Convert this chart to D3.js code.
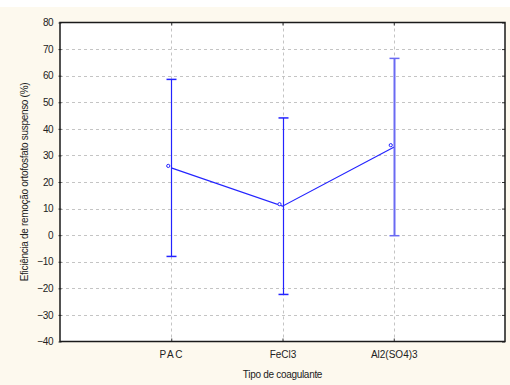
<!DOCTYPE html>
<html>
<head>
<meta charset="utf-8">
<script src="https://cdn.jsdelivr.net/npm/d3@7"></script>
<style>
	body { margin: 0; background: #fff; }
	text { font-family: "Liberation Sans", Arial, sans-serif; fill: #222; }
</style>
</head>
<body>
<script>
// chart data
var categories = ['PAC', 'FeCl3', 'Al2(SO4)3'],
	means = [25.3, 10.9, 33.1],
	upper = [58.6, 44.1, 66.5],
	lower = [-8.0, -22.3, -0.2],
	yTicks = [80, 70, 60, 50, 40, 30, 20, 10, 0, -10, -20, -30, -40];

// sizing (window.top is read-only, so the plot edges get their own names)
var W = 510, H = 385,
	p_left = 60, p_right = 505, p_top = 22.5, p_bottom = 341.5,
	blue = '#2424ff';

var svg = d3.select('body').append('svg')
	.attr('width', W)
	.attr('height', H);

// cream background
svg.append('rect')
	.attr('x', 0).attr('y', 7)
	.attr('width', W).attr('height', H - 7)
	.attr('fill', '#fdf9ee');

// plot area
svg.append('rect')
	.attr('x', p_left).attr('y', p_top)
	.attr('width', p_right - p_left).attr('height', p_bottom - p_top)
	.attr('fill', 'white');

var x = d3.scalePoint().domain(categories).range([p_left, p_right]).padding(1),
	y = d3.scaleLinear().domain([-40, 80]).range([p_bottom, p_top]);

// dashed grid lines
svg.append('g').selectAll('line')
	.data(yTicks.slice(1, -1))
	.join('line')
	.attr('x1', p_left).attr('x2', p_right)
	.attr('y1', d => Math.round(y(d)) + 0.5).attr('y2', d => Math.round(y(d)) + 0.5)
	.attr('stroke', '#c4c4c4')
	.attr('stroke-dasharray', '3,3');

svg.append('g').selectAll('line')
	.data(categories)
	.join('line')
	.attr('x1', d => Math.round(x(d)) + 0.5).attr('x2', d => Math.round(x(d)) + 0.5)
	.attr('y1', p_top).attr('y2', p_bottom)
	.attr('stroke', '#c4c4c4')
	.attr('stroke-dasharray', '3,3');

// left axis with labels
var yAxis = svg.append('g')
	.attr('transform', 'translate(' + p_left + ',0)')
	.call(d3.axisLeft(y).tickValues(yTicks).tickSize(3).tickPadding(4));
yAxis.select('.domain').remove();
yAxis.selectAll('.tick line').attr('stroke', '#333').attr('transform', 'translate(1.5,0)');
yAxis.selectAll('text')
	.attr('font-size', 10)
	.attr('font-family', '"Liberation Sans", Arial, sans-serif')
	.attr('letter-spacing', '-0.5')
	.attr('fill', '#222');

// right inward ticks
svg.append('g')
	.attr('transform', 'translate(' + p_right + ',0)')
	.call(d3.axisRight(y).tickValues(yTicks).tickSize(-3).tickFormat(''))
	.call(g => g.select('.domain').remove())
	.selectAll('.tick line').attr('stroke', '#333');

// bottom axis with category labels
var xAxis = svg.append('g')
	.attr('transform', 'translate(0,' + p_bottom + ')')
	.call(d3.axisBottom(x).tickSize(-3).tickPadding(9));
xAxis.select('.domain').remove();
xAxis.selectAll('.tick line').attr('stroke', '#333');
xAxis.selectAll('text')
	.attr('font-size', 10)
	.attr('font-family', '"Liberation Sans", Arial, sans-serif')
	.attr('fill', '#222');
xAxis.selectAll('.tick').filter(d => d == 'PAC').select('text').attr('letter-spacing', '1.5');

// top inward ticks
svg.append('g')
	.attr('transform', 'translate(0,' + p_top + ')')
	.call(d3.axisTop(x).tickSize(-3).tickFormat(''))
	.call(g => g.select('.domain').remove())
	.selectAll('.tick line').attr('stroke', '#333');

// frame
svg.append('rect')
	.attr('x', p_left).attr('y', p_top)
	.attr('width', p_right - p_left).attr('height', p_bottom - p_top)
	.attr('fill', 'none')
	.attr('stroke', '#1a1a1a')
	.attr('stroke-width', 1.5);

// error bars
var bars = svg.append('g');
categories.forEach(function(c, i) {
	var cx = Math.round(x(c)) + 0.5,
		w = i == 2 ? 2 : 1.2,
		col = i == 2 ? '#6a6af2' : blue;
	bars.append('line')
		.attr('x1', cx).attr('x2', cx)
		.attr('y1', y(upper[i])).attr('y2', y(lower[i]))
		.attr('stroke', col).attr('stroke-width', w);
	[upper[i], lower[i]].forEach(function(v) {
		bars.append('line')
			.attr('x1', cx - 5).attr('x2', cx + 5)
			.attr('y1', y(v)).attr('y2', y(v))
			.attr('stroke', col).attr('stroke-width', 1.5);
	});
});

// mean line
svg.append('path')
	.datum(categories)
	.attr('d', d3.line().x(d => x(d)).y((d, i) => y(means[i])))
	.attr('fill', 'none')
	.attr('stroke', blue)
	.attr('stroke-width', 1.2);

// mean markers (drawn slightly up-left of the point, as in the original)
svg.append('g').selectAll('circle')
	.data(categories)
	.join('circle')
	.attr('cx', d => x(d) - 3)
	.attr('cy', (d, i) => y(means[i]) - 2)
	.attr('r', 1.6)
	.attr('fill', 'white')
	.attr('stroke', blue)
	.attr('stroke-width', 1);

// axis titles
svg.append('text')
	.attr('x', (p_left + p_right) / 2).attr('y', 378)
	.attr('text-anchor', 'middle')
	.attr('font-size', 10)
	.attr('letter-spacing', '-0.3')
	.text('Tipo de coagulante');

svg.append('text')
	.attr('transform', 'translate(28,' + (p_top + p_bottom) / 2 + ') rotate(-90)')
	.attr('text-anchor', 'middle')
	.attr('font-size', 10)
	.attr('letter-spacing', '-0.3')
	.text('Eficiência de remoção ortofosfato suspenso (%)');
</script>
</body>
</html>
